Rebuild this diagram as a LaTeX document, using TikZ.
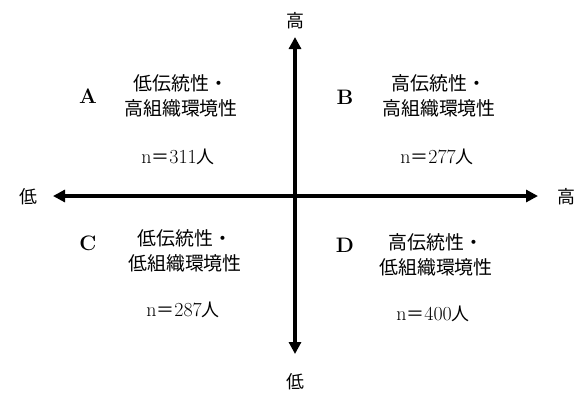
\documentclass[tikz,border=0pt]{standalone}
\usepackage{fontspec}
\newfontfamily\cjk{Noto Sans CJK JP}
\usetikzlibrary{arrows.meta}
\tikzset{
  axis/.style={line width=3.2bp, -{Triangle[length=12bp,width=12bp]}},
  axlabel/.style={font=\cjk\fontsize{18}{20}\selectfont, inner sep=0pt},
  qletter/.style={font=\bfseries\fontsize{21}{24}\selectfont, inner sep=0pt},
  qtext/.style={font=\cjk\fontsize{19}{25}\selectfont, align=center, inner sep=0pt},
  qnum/.style={font=\fontsize{20}{22}\selectfont, inner sep=0pt}
}
\newcommand{\cj}[1]{{\cjk\fontsize{18}{22}\selectfont #1}}
\begin{document}
\begin{tikzpicture}[x=1bp,y=-1bp]
\useasboundingbox (0,0) rectangle (587,394);
% axis ends
\coordinate (L) at (53,196);
\coordinate (R) at (538,196);
\coordinate (T) at (295,37);
\coordinate (Bt) at (295,354);
\coordinate (O) at (295,196);
\draw[axis] (O) -- (L);
\draw[axis] (O) -- (R);
\draw[axis] (O) -- (T);
\draw[axis] (O) -- (Bt);
% axis labels
\node[axlabel] (lt) at (295,21) {高};
\node[axlabel] (lb) at (295,382) {低};
\node[axlabel] (ll) at (28,197) {低};
\node[axlabel] (lr) at (566,197) {高};
% quadrant A
\node[qletter] (A) at (88,96) {A};
\node[qtext] (tA) at (181,96) {低伝統性・\\高組織環境性};
\node[qnum] (nA) at (178,157) {n\cj{＝}311\cj{人}};
% quadrant B
\node[qletter] (B) at (345,97) {B};
\node[qtext] (tB) at (439,96) {高伝統性・\\高組織環境性};
\node[qnum] (nB) at (437,157) {n\cj{＝}277\cj{人}};
% quadrant C
\node[qletter] (C) at (88,243) {C};
\node[qtext] (tC) at (185,251) {低伝統性・\\低組織環境性};
\node[qnum] (nC) at (183,310) {n\cj{＝}287\cj{人}};
% quadrant D
\node[qletter] (D) at (345,245) {D};
\node[qtext] (tD) at (436,255) {高伝統性・\\低組織環境性};
\node[qnum] (nD) at (433,314) {n\cj{＝}400\cj{人}};
\end{tikzpicture}
\end{document}
